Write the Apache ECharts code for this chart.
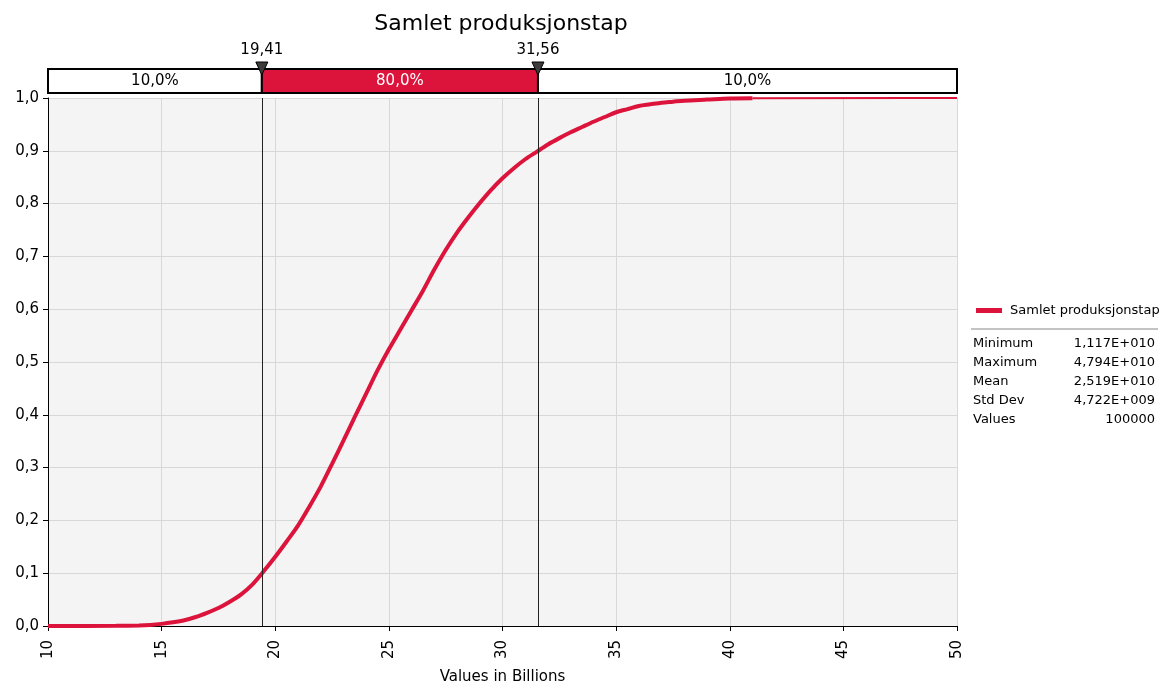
<!DOCTYPE html>
<html>
<head>
<meta charset="utf-8">
<script src="https://cdn.jsdelivr.net/npm/echarts@6/dist/echarts.min.js"></script>
<style>
html,body{margin:0;padding:0;background:#fff;}
#chart{width:1162px;height:686px;}
</style>
</head>
<body>
<div id="chart"></div>
<script>
// ---- data ----
const chartTitle = 'Samlet produksjonstap';
const seriesName = 'Samlet produksjonstap';
const axisName = 'Values in Billions';
const cdfX = [10, 13, 14, 14.5, 15, 15.5, 16, 16.5, 17, 17.5, 18, 18.5, 19, 19.5, 20, 20.5, 21, 21.5, 22, 22.5, 23, 23.5, 24, 24.5, 25, 25.5, 26, 26.5, 27, 27.5, 28, 28.5, 29, 29.5, 30, 30.5, 31, 31.5, 32, 32.5, 33, 33.5, 34, 34.5, 35, 35.5, 36, 36.5, 37, 37.5, 38, 39, 40, 41];
const cdfP = [0, 0.0003, 0.001, 0.002, 0.004, 0.007, 0.011, 0.017, 0.025, 0.034, 0.046, 0.060, 0.079, 0.104, 0.131, 0.160, 0.190, 0.226, 0.264, 0.307, 0.351, 0.396, 0.440, 0.484, 0.524, 0.561, 0.598, 0.635, 0.675, 0.712, 0.745, 0.774, 0.801, 0.826, 0.848, 0.867, 0.884, 0.898, 0.912, 0.924, 0.935, 0.945, 0.955, 0.964, 0.973, 0.979, 0.985, 0.988, 0.991, 0.993, 0.995, 0.997, 0.999, 0.9995];
const tailX = [41, 47.94, 50];
const tailP = [0.9995, 1, 1];
const xMin = 10, xMax = 50, xStep = 5;
const yMin = 0, yMax = 1, yStep = 0.1;
const delimiters = [19.41, 31.56];
const delimiterLabels = ['19,41', '31,56'];
const segmentLabels = ['10,0%', '80,0%', '10,0%'];
const statNames = ['Minimum', 'Maximum', 'Mean', 'Std Dev', 'Values'];
const statValues = ['1,117E+010', '4,794E+010', '2,519E+010', '4,722E+009', '100000'];

// ---- styles ----
const RED = '#dc143c';
const FONT = 'DejaVu Sans';

const chart = echarts.init(document.getElementById('chart'), null, {renderer: 'canvas'});

const bounds = [xMin].concat(delimiters, [xMax]);
const segData = segmentLabels.map((l, i) => [bounds[i], bounds[i + 1], i]);
const markerData = delimiters.map((d, i) => [d, i]);

const graphics = [];
graphics.push({type: 'line', shape: {x1: 971, y1: 329, x2: 1158, y2: 329}, style: {stroke: '#888', lineWidth: 1}});
statNames.forEach((n, i) => {
  const y = 344 + i * 19;
  graphics.push({type: 'text', x: 973, y: y, style: {text: n, font: '13px ' + FONT, fill: '#000', verticalAlign: 'middle'}});
  graphics.push({type: 'text', x: 1155, y: y, style: {text: statValues[i], font: '13px ' + FONT, fill: '#000', align: 'right', verticalAlign: 'middle'}});
});

const option = {
  animation: false,
  backgroundColor: '#fff',
  title: {
    text: chartTitle, left: 496, top: 8, textAlign: 'center',
    textStyle: {fontFamily: FONT, fontSize: 22, fontWeight: 'normal', color: '#000'}
  },
  legend: {
    data: [{name: seriesName, icon: 'rect'}],
    left: 971, top: 299, itemWidth: 26, itemHeight: 5, itemGap: 5,
    textStyle: {fontFamily: FONT, fontSize: 13, color: '#000', padding: [0, 0, 0, 3]}
  },
  grid: [
    {left: 48, right: 205, top: 98, bottom: 60, show: true, backgroundColor: '#f4f4f4', borderWidth: 0, outerBoundsMode: 'none', containLabel: false},
    {left: 48, right: 205, top: 69, height: 24, show: false, outerBoundsMode: 'none', containLabel: false}
  ],
  xAxis: [
    {
      type: 'value', gridIndex: 0, min: xMin, max: xMax, interval: xStep,
      name: axisName, nameLocation: 'middle', nameGap: 44, nameMoveOverlap: false,
      nameTextStyle: {fontFamily: FONT, fontSize: 15, color: '#000'},
      axisLine: {show: true, lineStyle: {color: '#000', width: 1}},
      axisTick: {show: true, length: 5, lineStyle: {color: '#000'}},
      axisLabel: {rotate: 90, margin: 14, fontFamily: FONT, fontSize: 15, color: '#000', showMinLabel: true, showMaxLabel: true},
      splitLine: {show: true, lineStyle: {color: '#d8d8d8', width: 1}}
    },
    {type: 'value', gridIndex: 1, min: xMin, max: xMax, show: false}
  ],
  yAxis: [
    {
      type: 'value', gridIndex: 0, min: yMin, max: yMax, interval: yStep,
      axisLine: {show: true, lineStyle: {color: '#000', width: 1}},
      axisTick: {show: true, length: 5, lineStyle: {color: '#000'}},
      axisLabel: {margin: 9, fontFamily: FONT, fontSize: 15, color: '#000',
        formatter: v => v.toFixed(1).replace('.', ',')},
      splitLine: {show: true, lineStyle: {color: '#d8d8d8', width: 1}}
    },
    {type: 'value', gridIndex: 1, min: 0, max: 1, show: false}
  ],
  series: [
    {
      name: seriesName, type: 'line', xAxisIndex: 0, yAxisIndex: 0,
      data: cdfX.map((x, i) => [x, cdfP[i]]),
      showSymbol: false, smooth: 0.3,
      lineStyle: {color: RED, width: 4}, itemStyle: {color: RED},
      z: 3,
      markLine: {
        silent: true, symbol: ['none', 'none'], label: {show: false},
        lineStyle: {color: '#222', width: 1, type: 'solid'},
        data: delimiters.map(d => ({xAxis: d}))
      }
    },
    {
      name: 'tail', type: 'line', xAxisIndex: 0, yAxisIndex: 0,
      data: tailX.map((x, i) => [x, tailP[i]]),
      showSymbol: false, lineStyle: {color: RED, width: 2}, z: 3
    },
    {
      name: 'segments', type: 'custom', xAxisIndex: 1, yAxisIndex: 1,
      data: segData, encode: {x: [0, 1]},
      renderItem: function (params, api) {
        const s = api.coord([api.value(0), 1]);
        const e = api.coord([api.value(1), 0]);
        const idx = api.value(2);
        const isMid = idx === 1;
        return {
          type: 'rect',
          shape: {x: s[0], y: s[1], width: e[0] - s[0], height: e[1] - s[1]},
          style: {fill: isMid ? RED : '#fff', stroke: '#000', lineWidth: 2},
          textContent: {style: {text: segmentLabels[idx], fill: isMid ? '#fff' : '#000', font: '15px ' + FONT}},
          textConfig: {position: 'inside'}
        };
      },
      z: 4
    },
    {
      name: 'markers', type: 'custom', xAxisIndex: 1, yAxisIndex: 1,
      data: markerData, encode: {x: 0},
      renderItem: function (params, api) {
        const p = api.coord([api.value(0), 1]);
        const idx = api.value(1);
        return {
          type: 'group',
          children: [
            {type: 'polygon', shape: {points: [[p[0] - 6, p[1] - 7], [p[0] + 6, p[1] - 7], [p[0], p[1] + 6]]},
              style: {fill: '#3c3c3c', stroke: '#000', lineWidth: 1}},
            {type: 'text', x: p[0], y: p[1] - 19,
              style: {text: delimiterLabels[idx], font: '15px ' + FONT, fill: '#000', align: 'center', verticalAlign: 'middle'}}
          ]
        };
      },
      z: 5
    }
  ],
  graphic: graphics
};
chart.setOption(option);
</script>
</body>
</html>
